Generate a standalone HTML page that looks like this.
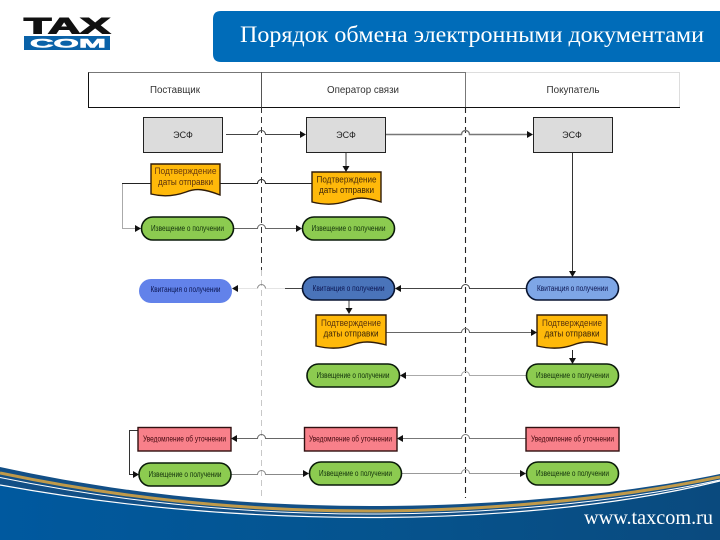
<!DOCTYPE html>
<html lang="ru"><head><meta charset="utf-8"><title>Порядок обмена электронными документами</title>
<style>
html,body{margin:0;padding:0;background:#fff;width:720px;height:540px;overflow:hidden}
svg{display:block}
.t{font-family:"Liberation Sans",sans-serif;font-size:8px;text-anchor:middle;filter:url(#b)}
.p{font-family:"Liberation Sans",sans-serif;font-size:9px;text-anchor:middle;filter:url(#b)}
.h{font-family:"Liberation Sans",sans-serif;font-size:10px;text-anchor:middle;fill:#333;filter:url(#b)}
.s{font-family:"Liberation Serif",serif;fill:#fff}
.g{fill:#8ccb50;stroke:#0a1a0a;stroke-width:1.6}
.r{fill:#f8808a;stroke:#301010;stroke-width:1.4}
.e{fill:#dcdcdc;stroke:#222;stroke-width:1}
.d{fill:#ffb90a;stroke:#301c08;stroke-width:1.4}
.l{fill:none;stroke:#444;stroke-width:1}
.a{fill:#111}
</style></head><body>
<svg width="720" height="540" viewBox="0 0 720 540" xmlns="http://www.w3.org/2000/svg">
<defs>
<filter id="b" x="-5%" y="-20%" width="110%" height="140%"><feGaussianBlur stdDeviation="0.35"/></filter>
<linearGradient id="f" x1="0" y1="0" x2="1" y2="0"><stop offset="0" stop-color="#00599f"/><stop offset="0.5" stop-color="#05548f"/><stop offset="1" stop-color="#0a4a7e"/></linearGradient>
</defs>
<rect width="720" height="540" fill="#fff"/>

<!-- logo -->
<text x="24" y="33.500" font-family="Liberation Sans" font-weight="bold" font-size="22" textLength="86" lengthAdjust="spacingAndGlyphs" fill="#111" stroke="#111" stroke-width="1.100">TAX</text>
<rect x="24" y="36" width="86" height="14" fill="#0a62a8"/>
<text x="30" y="47.500" font-family="Liberation Sans" font-weight="bold" font-size="12" textLength="76" lengthAdjust="spacingAndGlyphs" fill="#fff" stroke="#fff" stroke-width=".5">COM</text>

<!-- title -->
<path d="M221 11H720V62H221Q213 62 213 54V19Q213 11 221 11Z" fill="#006cb9"/>
<text class="s" x="240" y="42" font-size="23" textLength="464" lengthAdjust="spacingAndGlyphs">Порядок обмена электронными документами</text>

<!-- header -->
<rect x="88.500" y="72.500" width="591" height="35" fill="#fff" stroke="#ddd"/>
<path d="M88.500 107V72.500H465" fill="none" stroke="#777"/>
<path d="M88.500 72.500V107.500H680" fill="none" stroke="#111"/>
<path d="M261.500 72V107" stroke="#555"/>
<path d="M465.500 72V107" stroke="#777"/>
<text class="h" x="175" y="93" textLength="50" lengthAdjust="spacingAndGlyphs">Поставщик</text>
<text class="h" x="363" y="93" textLength="72" lengthAdjust="spacingAndGlyphs">Оператор связи</text>
<text class="h" x="573" y="93" textLength="53" lengthAdjust="spacingAndGlyphs">Покупатель</text>

<!-- swimlane dividers -->
<path d="M261.500 107V270" stroke="#333" stroke-dasharray="6 4" fill="none"/>
<path d="M261.500 270V497" stroke="#c8c8c8" stroke-dasharray="6 4" fill="none"/>
<path d="M465.500 107V498" stroke="#222" stroke-width="1.100" stroke-dasharray="6 4" fill="none"/>

<!-- connectors -->
<g class="l">
<path d="M226 134.500H257.500a4 4 0 0 1 8 0H303"/>
<path d="M386 134.500H461.500a4 4 0 0 1 8 0H530" stroke="#777" stroke-width="1.400"/>
<path d="M122 183.500H151M220 183.500H257.500a4 4 0 0 1 8 0H312" stroke="#222"/>
<path d="M122.500 184V228.500H138" stroke="#aaa"/>
<path d="M234 228.500H257.500a4 4 0 0 1 8 0H299" stroke="#666"/>
<path d="M346 152V169" stroke="#555" stroke-width="1.200"/>
<path d="M572.500 152V274" stroke="#333"/>
<path d="M526 288.500H469.500a4 4 0 0 0 -8 0H398" stroke="#444"/>
<path d="M302 288.500H285" stroke="#444"/>
<path d="M285 288.500H265.500" stroke="#e4e4e4"/>
<path d="M265.500 288.500a4 4 0 0 0 -8 0" stroke="#888"/>
<path d="M257.500 288.500H235" stroke="#e4e4e4"/>
<path d="M386 332.500H461.500a4 4 0 0 1 8 0H534" stroke="#666"/>
<path d="M349 300V311" stroke="#444"/>
<path d="M572.500 350V361" stroke="#222"/>
<path d="M526 375.500H469.500a4 4 0 0 0 -8 0H403" stroke="#aaa"/>
<path d="M526 438.500H469.500a4 4 0 0 0 -8 0H400" stroke="#777"/>
<path d="M304 438.500H265.500a4 4 0 0 0 -8 0H234" stroke="#666"/>
<path d="M138 430.500H129.500V474.500H136" stroke="#333"/>
<path d="M231 474.500H257.500a4 4 0 0 1 8 0H306" stroke="#888"/>
<path d="M402 473.500H461.500a4 4 0 0 1 8 0H523" stroke="#999"/>
</g>
<g class="a">
<path d="M306 134.500l-6-3.500v7z"/>
<path d="M533 134.500l-6-3.500v7z"/>
<path d="M141 228.500l-6-3.500v7z"/>
<path d="M302 228.500l-6-3.500v7z"/>
<path d="M346 172l-3.500-6h7z"/>
<path d="M572.500 277l-3.500-6h7z"/>
<path d="M395 288.500l6-3.500v7z"/>
<path d="M232 288.500l6-3.500v7z"/>
<path d="M349 314l-3.500-6h7z"/>
<path d="M537 332.500l-6-3.500v7z"/>
<path d="M572.500 364l-3.500-6h7z"/>
<path d="M400 375.500l6-3.500v7z"/>
<path d="M397 438.500l6-3.500v7z"/>
<path d="M231 438.500l6-3.500v7z"/>
<path d="M139 474.500l-6-3.500v7z"/>
<path d="M309 473.500l-6-3.500v7z"/>
<path d="M526 473.500l-6-3.500v7z"/>
</g>

<!-- row 1: ЭСФ -->
<rect class="e" x="143.500" y="117.500" width="79" height="35"/>
<rect class="e" x="306.500" y="117.500" width="79" height="35"/>
<rect class="e" x="533.500" y="117.500" width="79" height="35"/>
<text class="p" x="183" y="138" fill="#222">ЭСФ</text>
<text class="p" x="346" y="138" fill="#222">ЭСФ</text>
<text class="p" x="572" y="138" fill="#222">ЭСФ</text>

<!-- documents -->
<path class="d" d="M151 164H220V195C205 189 196 188 186 192C175 196 163 197 151 194Z"/>
<text class="p" x="185.500" y="174" fill="#6b3a10" textLength="62" lengthAdjust="spacingAndGlyphs">Подтверждение</text>
<text class="p" x="185.500" y="185" fill="#5a3010" textLength="55" lengthAdjust="spacingAndGlyphs">даты отправки</text>

<path class="d" d="M312 172H381V202C366 197 357 197 347 201C336 205 324 205 312 202Z"/>
<text class="p" x="346.500" y="182.500" fill="#4a2c08" textLength="60" lengthAdjust="spacingAndGlyphs">Подтверждение</text>
<text class="p" x="346.500" y="193" fill="#3a2408" textLength="55" lengthAdjust="spacingAndGlyphs">даты отправки</text>

<path class="d" d="M316 315H386V345C371 341 362 341 352 345C341 349 329 349 316 346Z"/>
<text class="p" x="351" y="326" fill="#5a3410" textLength="60" lengthAdjust="spacingAndGlyphs">Подтверждение</text>
<text class="p" x="351" y="336.500" fill="#3a2408" textLength="55" lengthAdjust="spacingAndGlyphs">даты отправки</text>

<path class="d" d="M537 315H607V345C592 341 583 341 573 345C562 349 550 349 537 346Z"/>
<text class="p" x="572" y="326" fill="#5a3410" textLength="60" lengthAdjust="spacingAndGlyphs">Подтверждение</text>
<text class="p" x="572" y="336.500" fill="#3a2408" textLength="55" lengthAdjust="spacingAndGlyphs">даты отправки</text>

<!-- green -->
<rect class="g" x="141.500" y="217" width="92" height="23" rx="11.500"/>
<rect class="g" x="302.500" y="217" width="92" height="23" rx="11.500"/>
<rect class="g" x="307" y="364" width="92.500" height="23" rx="11.500"/>
<rect class="g" x="526.500" y="364" width="92" height="23" rx="11.500"/>
<rect class="g" x="139" y="463" width="92" height="23" rx="11.500"/>
<rect class="g" x="309.500" y="462" width="92" height="23" rx="11.500"/>
<rect class="g" x="526.500" y="462" width="92" height="23" rx="11.500"/>
<g fill="#12300a">
<text class="t" x="187.500" y="231" textLength="73" lengthAdjust="spacingAndGlyphs">Извещение о получении</text>
<text class="t" x="348.500" y="231" textLength="74" lengthAdjust="spacingAndGlyphs">Извещение о получении</text>
<text class="t" x="353" y="378" textLength="73" lengthAdjust="spacingAndGlyphs">Извещение о получении</text>
<text class="t" x="572.500" y="378" textLength="73" lengthAdjust="spacingAndGlyphs">Извещение о получении</text>
<text class="t" x="185" y="477" textLength="73" lengthAdjust="spacingAndGlyphs">Извещение о получении</text>
<text class="t" x="355.500" y="476" textLength="73" lengthAdjust="spacingAndGlyphs">Извещение о получении</text>
<text class="t" x="572.500" y="476" textLength="73" lengthAdjust="spacingAndGlyphs">Извещение о получении</text>
</g>

<!-- blue -->
<rect x="139" y="279" width="93" height="24" rx="12" fill="#6282ea"/>
<rect x="302.500" y="277" width="92" height="23" rx="11.500" fill="#4a74ba" stroke="#081430" stroke-width="1.600"/>
<rect x="526.500" y="277" width="92" height="23" rx="11.500" fill="#7ea6e6" stroke="#081430" stroke-width="1.600"/>
<g fill="#0a1450">
<text class="t" x="185.500" y="292" textLength="70" lengthAdjust="spacingAndGlyphs">Квитанция о получении</text>
<text class="t" x="348.500" y="291" textLength="72" lengthAdjust="spacingAndGlyphs">Квитанция о получении</text>
<text class="t" x="572.500" y="291" textLength="71" lengthAdjust="spacingAndGlyphs">Квитанция о получении</text>
</g>

<!-- red -->
<rect class="r" x="138" y="427.500" width="93" height="23.500"/>
<rect class="r" x="304.500" y="427.500" width="92.500" height="23.500"/>
<rect class="r" x="526" y="427.500" width="93" height="23.500"/>
<g fill="#40080c">
<text class="t" x="184.500" y="441.500" textLength="83" lengthAdjust="spacingAndGlyphs">Уведомление об уточнении</text>
<text class="t" x="350.500" y="441.500" textLength="83" lengthAdjust="spacingAndGlyphs">Уведомление об уточнении</text>
<text class="t" x="572.500" y="441.500" textLength="83" lengthAdjust="spacingAndGlyphs">Уведомление об уточнении</text>
</g>

<!-- footer swoosh -->
<path d="M0 467C110 491 230 506 370 506C480 506 610 497 720 474V540H0Z" fill="#124f86"/>
<path d="M0 485C110 505 230 517.500 370 517.500C480 517.500 610 508 720 481V540H0Z" fill="url(#f)"/>
<path d="M0 473C110 496 230 511 370 511C480 511 610 500 720 477" fill="none" stroke="#c09a4a" stroke-width="3"/>
<path d="M0 477.500C110 500 230 514 370 514C480 514 610 504 720 480" fill="none" stroke="#fff" stroke-width="1"/>
<path d="M0 485C110 505 230 517.500 370 517.500C480 517.500 610 508 720 481" fill="none" stroke="#fff" stroke-width="1.200"/>
<text class="s" x="584" y="524" font-size="20" textLength="129" lengthAdjust="spacingAndGlyphs">www.taxcom.ru</text>
</svg>
</body></html>
